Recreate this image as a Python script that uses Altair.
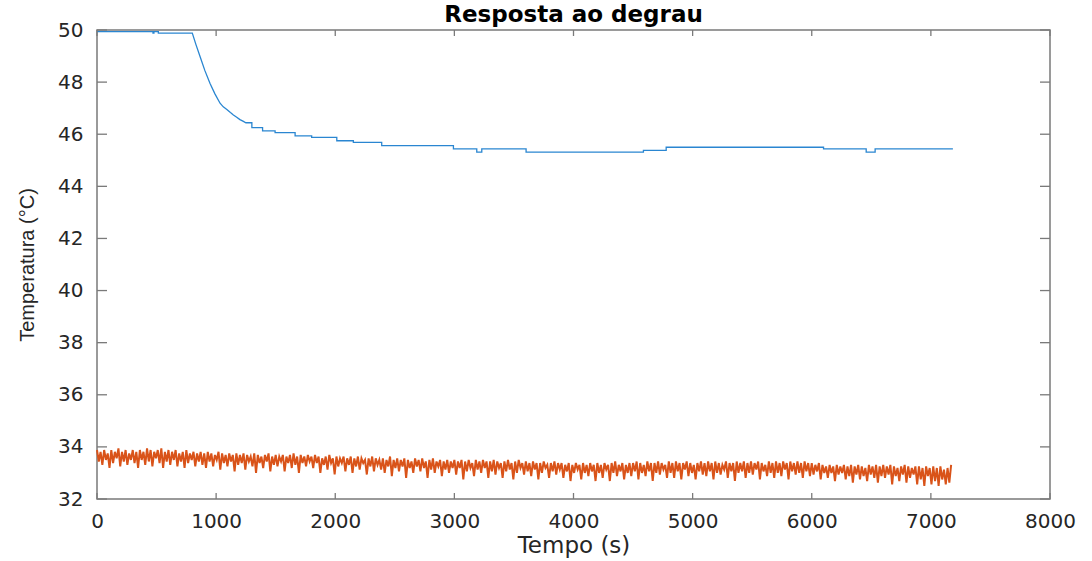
import altair as alt
import pandas as pd

# Heater outlet temperature (blue), step-like sensor readings
blue_t = [0, 470, 470, 478, 478, 515, 515, 800, 830, 865, 905, 949, 990, 1033,
          1060, 1090, 1120, 1145, 1170, 1200, 1225, 1250, 1300, 1300, 1390, 1390,
          1495, 1495, 1663, 1663, 1802, 1802, 2013, 2013, 2152, 2152, 2390, 2390,
          2992, 2992, 3188, 3188, 3230, 3230, 3602, 3602, 4587, 4587, 4778, 4778,
          6099, 6099, 6457, 6457, 6532, 6532, 7185]
blue_temp = [49.94, 49.94, 49.88, 49.88, 49.94, 49.94, 49.88, 49.88, 49.45, 48.98,
             48.45, 47.95, 47.55, 47.19, 47.05, 46.95, 46.83, 46.74, 46.66, 46.56,
             46.50, 46.44, 46.44, 46.25, 46.25, 46.13, 46.13, 46.06, 46.06, 45.94,
             45.94, 45.88, 45.88, 45.75, 45.75, 45.69, 45.69, 45.56, 45.56, 45.44,
             45.44, 45.31, 45.31, 45.44, 45.44, 45.31, 45.31, 45.38, 45.38, 45.50,
             45.50, 45.44, 45.44, 45.31, 45.31, 45.44, 45.44]

# Ambient temperature (orange), one reading every 15 s
ambient_step = 15
ambient_a = [33.88, 33.44, 33.81, 33.31, 33.88, 33.50, 33.75, 33.19, 33.88, 33.38,
             33.81, 33.56, 33.94, 33.25, 33.81, 33.44, 33.88, 33.31, 33.75, 33.50,
             33.88, 33.38, 33.81, 33.19, 33.88, 33.50, 33.81, 33.31, 33.94, 33.44,
             33.88, 33.25, 33.81, 33.56, 33.88, 33.38, 33.94, 33.19, 33.81, 33.44,
             33.88, 33.31, 33.81, 33.50, 33.88, 33.25, 33.75, 33.44, 33.81, 33.19,
             33.88, 33.38, 33.75, 33.50, 33.81, 33.25, 33.75, 33.44, 33.81, 33.31,
             33.75, 33.19, 33.81, 33.44, 33.75, 33.25, 33.69, 33.50, 33.81, 33.13,
             33.75, 33.38, 33.69, 33.25, 33.75, 33.44, 33.69, 33.06, 33.75, 33.31]
ambient_b = [33.69, 33.38, 33.75, 33.13, 33.69, 33.44, 33.63, 33.25, 33.75, 33.00,
             33.69, 33.38, 33.63, 33.19, 33.69, 33.44, 33.75, 33.06, 33.63, 33.31,
             33.69, 33.25, 33.63, 33.44, 33.69, 33.06, 33.63, 33.38, 33.69, 33.19,
             33.75, 33.31, 33.63, 33.00, 33.69, 33.38, 33.63, 33.25, 33.69, 33.44,
             33.63, 33.19, 33.69, 33.38, 33.63, 33.00, 33.56, 33.31, 33.63, 33.13,
             33.69, 33.38, 33.56, 32.94, 33.63, 33.25, 33.56, 33.38, 33.63, 33.06,
             33.56, 33.31, 33.63, 33.00, 33.56, 33.25, 33.63, 33.13, 33.56, 33.38,
             33.50, 32.94, 33.56, 33.25, 33.63, 33.06, 33.56, 33.31, 33.50, 33.13]
ambient_c = [33.56, 33.00, 33.50, 33.25, 33.63, 32.88, 33.50, 33.19, 33.56, 33.06,
             33.50, 33.25, 33.56, 32.81, 33.50, 33.19, 33.44, 33.00, 33.56, 33.25,
             33.50, 33.06, 33.56, 33.19, 33.44, 32.81, 33.50, 33.13, 33.56, 33.00,
             33.44, 33.25, 33.50, 32.88, 33.44, 33.13, 33.50, 33.00, 33.44, 33.19,
             33.50, 32.94, 33.44, 33.19, 33.50, 32.75, 33.44, 33.06, 33.50, 33.19,
             33.38, 32.88, 33.50, 33.13, 33.44, 33.00, 33.50, 33.19, 33.44, 32.81,
             33.44, 33.06, 33.50, 32.94, 33.44, 33.19, 33.38, 32.81, 33.44, 33.06,
             33.50, 33.13, 33.38, 32.75, 33.44, 33.00, 33.50, 33.19, 33.38, 32.94]
ambient_d = [33.44, 33.06, 33.38, 32.88, 33.44, 33.13, 33.38, 32.75, 33.38, 33.00,
             33.44, 33.19, 33.31, 32.81, 33.38, 33.06, 33.44, 32.94, 33.38, 33.13,
             33.38, 32.81, 33.31, 33.06, 33.38, 32.69, 33.31, 33.00, 33.38, 33.13,
             33.31, 32.75, 33.38, 33.00, 33.31, 32.88, 33.38, 33.06, 33.31, 32.69,
             33.38, 33.00, 33.31, 32.81, 33.38, 33.13, 33.31, 32.69, 33.38, 33.00,
             33.44, 32.88, 33.31, 33.06, 33.38, 32.75, 33.31, 33.00, 33.38, 32.88,
             33.38, 33.06, 33.44, 32.75, 33.38, 33.00, 33.31, 32.88, 33.44, 33.06,
             33.38, 32.69, 33.38, 33.00, 33.44, 32.94, 33.38, 33.13, 33.31, 32.81]
ambient_e = [33.44, 33.00, 33.38, 32.81, 33.44, 33.06, 33.38, 32.75, 33.38, 33.13,
             33.44, 32.88, 33.38, 33.00, 33.31, 32.75, 33.38, 33.06, 33.44, 32.94,
             33.38, 32.88, 33.44, 33.06, 33.38, 32.75, 33.44, 33.00, 33.38, 32.94,
             33.31, 33.13, 33.44, 32.81, 33.38, 33.06, 33.38, 32.69, 33.44, 33.00,
             33.38, 33.06, 33.44, 32.81, 33.38, 33.00, 33.44, 32.94, 33.38, 33.13,
             33.44, 32.75, 33.38, 33.06, 33.31, 32.88, 33.44, 33.00, 33.38, 32.81,
             33.44, 33.00, 33.38, 32.88, 33.44, 33.13, 33.38, 32.75, 33.44, 33.06,
             33.38, 32.94, 33.44, 33.00, 33.38, 32.81, 33.44, 33.06, 33.38, 32.88]
ambient_f = [33.38, 32.94, 33.31, 33.06, 33.38, 32.75, 33.31, 33.00, 33.25, 32.81,
             33.31, 33.00, 33.25, 32.69, 33.31, 32.94, 33.25, 33.00, 33.31, 32.75,
             33.25, 32.88, 33.31, 32.63, 33.25, 32.94, 33.31, 32.75, 33.25, 32.88,
             33.19, 32.69, 33.31, 32.94, 33.25, 32.81, 33.31, 32.63, 33.25, 32.88,
             33.31, 32.81, 33.25, 32.94, 33.31, 32.56, 33.25, 32.88, 33.19, 32.69,
             33.25, 32.94, 33.31, 32.63, 33.25, 32.81, 33.19, 32.94, 33.25, 32.56,
             33.25, 32.75, 33.19, 32.50, 33.25, 32.88, 33.19, 32.56, 33.25, 32.69,
             33.19, 32.50, 33.25, 32.75, 33.13, 32.56, 33.19, 32.63, 33.31]

x_ticks = [0, 1000, 2000, 3000, 4000, 5000, 6000, 7000, 8000]
y_ticks = [32, 34, 36, 38, 40, 42, 44, 46, 48, 50]

ambient = ambient_a + ambient_b + ambient_c + ambient_d + ambient_e + ambient_f
blue_df = pd.DataFrame({"t": blue_t, "temp": blue_temp, "i": range(len(blue_t))})
amb_df = pd.DataFrame({"t": [k * ambient_step for k in range(len(ambient))],
                       "temp": ambient, "i": range(len(ambient))})
xt_df = pd.DataFrame({"t": x_ticks})
yt_df = pd.DataFrame({"temp": y_ticks})

W, H = 953, 469
GREY = "#7a7a7a"
FONT = "DejaVu Sans"

xs = alt.Scale(domain=[0, 8000], nice=False, zero=False)
ys = alt.Scale(domain=[32, 50], nice=False, zero=False)
x_axis = alt.Axis(values=x_ticks, format="d", title="Tempo (s)",
                  labelFlush=False, labelPadding=12, titleFontSize=23,
                  titleBaseline="alphabetic", titleY=53, titleX=W / 2)
y_axis = alt.Axis(values=y_ticks, format="d", title="Temperatura (°C)",
                  labelFlush=False, labelPadding=14,
                  titleFont="Liberation Sans", titleFontSize=20,
                  titleBaseline="alphabetic", titleX=-64, titleY=H / 2,
                  titleAngle=270)

X = alt.X("t:Q", scale=xs, axis=x_axis)
Y = alt.Y("temp:Q", scale=ys, axis=y_axis)

blue = alt.Chart(blue_df).mark_line(color="#2a86d1", strokeWidth=1.3).encode(
    x=X, y=Y, order="i:Q")
orange = alt.Chart(amb_df).mark_line(color="#D95319", strokeWidth=2.0).encode(
    x=X, y=Y, order="i:Q")

# Inward-pointing tick marks on all four sides of the box
tick_bottom = alt.Chart(xt_df).mark_rule(color=GREY, strokeWidth=1.3).encode(
    x=X, y=alt.value(H), y2=alt.value(H - 6))
tick_top = alt.Chart(xt_df).mark_rule(color=GREY, strokeWidth=1.3).encode(
    x=X, y=alt.value(0), y2=alt.value(6))
tick_left = alt.Chart(yt_df).mark_rule(color=GREY, strokeWidth=1.3).encode(
    y=Y, x=alt.value(0), x2=alt.value(10))
tick_right = alt.Chart(yt_df).mark_rule(color=GREY, strokeWidth=1.3).encode(
    y=Y, x=alt.value(W), x2=alt.value(W - 10))

chart = alt.layer(
    orange, blue, tick_bottom, tick_top, tick_left, tick_right
).properties(
    width=W, height=H,
    background="white",
    title=alt.TitleParams("Resposta ao degrau", font=FONT, fontSize=23,
                          fontWeight="bold", color="#000000", anchor="middle",
                          frame="group", baseline="alphabetic", offset=-25),
    autosize=alt.AutoSizeParams(type="none"),
    padding={"left": 97, "top": 30, "right": 42, "bottom": 62},
).configure_view(
    stroke=GREY, strokeWidth=1.5
).configure_axis(
    domain=False, ticks=False, grid=False,
    labelFont=FONT, labelFontSize=20, labelColor="#262626",
    titleFont=FONT, titleFontSize=21, titleColor="#262626",
    titleFontWeight="normal", labelOverlap=False, labelBound=False
)

chart.save("out.html", embed_options={"renderer": "svg", "actions": False})
